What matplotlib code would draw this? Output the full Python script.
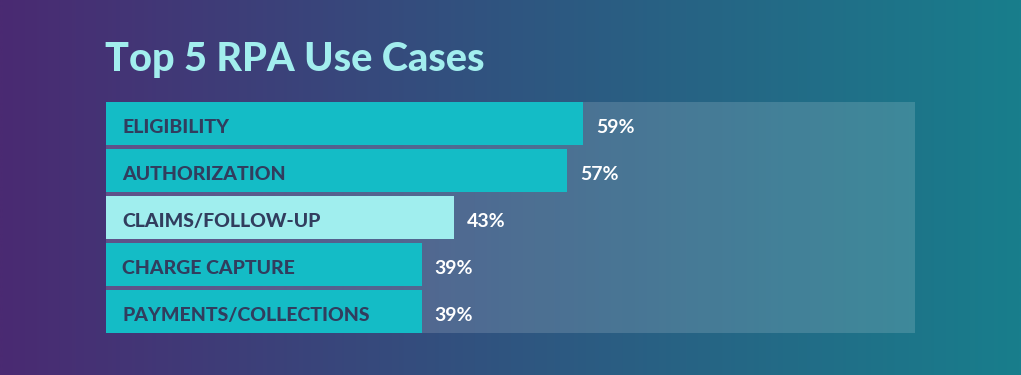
import numpy as np
import matplotlib
matplotlib.use("Agg")
import matplotlib.pyplot as plt
from matplotlib.colors import LinearSegmentedColormap

categories = ["ELIGIBILITY", "AUTHORIZATION", "CLAIMS/FOLLOW-UP", "CHARGE CAPTURE", "PAYMENTS/COLLECTIONS"]
values = [59, 57, 43, 39, 39]
value_labels = ["59%", "57%", "43%", "39%", "39%"]
title = "Top 5 RPA Use Cases"

bar_colors = ["#14bcc6", "#14bcc6", "#a0eeee", "#14bcc6", "#14bcc6"]
W, H = 1021, 375
fig = plt.figure(figsize=(W / 100, H / 100), dpi=100)

# background gradient
bg = fig.add_axes([0, 0, 1, 1])
cmap = LinearSegmentedColormap.from_list("bg", ["#4a2a72", "#2f5580", "#187e8c"])
grad = np.linspace(0, 1, 512).reshape(1, -1)
bg.imshow(grad, aspect="auto", cmap=cmap, extent=[0, 1, 0, 1])
bg.set_axis_off()

fig.text(105 / W, 1 - 71 / H, title, fontsize=28.5, fontweight="black", family="Lato",
         color="#a2eeee", ha="left", va="baseline")

ax = fig.add_axes([106 / W, 1 - 333 / H, (915 - 106) / W, (333 - 102) / H])
ax.patch.set_facecolor((1, 1, 1, 0.15))
y = np.arange(len(categories))
bh = 0.915
ax.barh(y, values, height=bh, color=bar_colors, edgecolor="none")
ax.set_xlim(0, 100)
ax.set_ylim(len(categories) - 1 + bh / 2, -bh / 2)
for i, (c, v, lab) in enumerate(zip(categories, values, value_labels)):
    ax.text(2.0, i + 0.08, c, fontsize=14, fontweight="black", family="Lato",
            color="#313d5e", ha="left", va="center")
    ax.text(v + 1.6, i + 0.08, lab, fontsize=14, fontweight="bold", family="Lato",
            color="white", ha="left", va="center")
for s in ax.spines.values():
    s.set_visible(False)
ax.set_xticks([])
ax.set_yticks([])

fig.savefig("out.png", dpi=100)
